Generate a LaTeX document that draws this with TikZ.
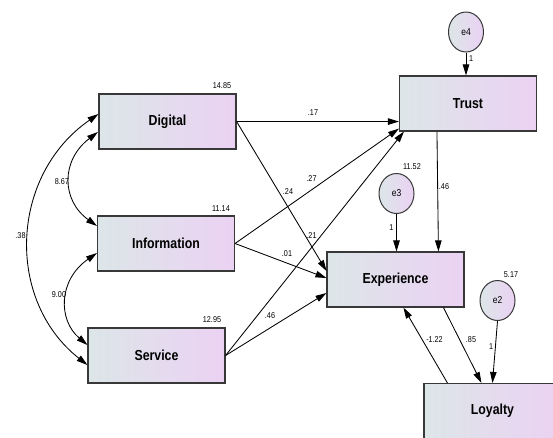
\documentclass[tikz,border=0pt]{standalone}
\usepackage{fontspec}
\setmainfont{Liberation Sans}
\usetikzlibrary{arrows.meta,shapes.geometric,calc}
\definecolor{leftc}{HTML}{DCE6E8}
\definecolor{rightc}{HTML}{EBD2F3}
\definecolor{edgec}{HTML}{383838}
\tikzset{
  var/.style={draw=edgec,line width=1.1pt,left color=leftc,right color=rightc,
    minimum width=137pt,minimum height=55pt,inner sep=0pt,
    font=\fontsize{14.5}{14.5}\selectfont\bfseries},
  err/.style={ellipse,draw=edgec,line width=1pt,left color=leftc,right color=rightc,
    minimum width=35pt,minimum height=40pt,inner sep=0pt,
    font=\fontsize{10}{10}\selectfont},
  num/.style={inner sep=0pt,font=\fontsize{8.5}{8.5}\selectfont},
  path/.style={draw=black,line width=0.85pt,-{Triangle[length=11pt,width=6.5pt]}},
  cov/.style={draw=black,line width=0.85pt,{Triangle[length=11pt,width=6.5pt]}-{Triangle[length=11pt,width=6.5pt]}}
}
\newcommand{\nw}[1]{\scalebox{0.85}[1]{#1}}
\begin{document}
\begin{tikzpicture}[x=1pt,y=-1pt]
\useasboundingbox (0,0) rectangle (553,437);
\clip (0,0) rectangle (553,437);
\fill[white] (0,0) rectangle (553,437);
% variables
\node[var] (dig) at (167.5,121.5) {\nw{Digital}};
\node[var] (inf) at (166,243.5) {\nw{Information}};
\node[var] (ser) at (156.5,355.5) {\nw{Service}};
\node[var] (tru) at (468,103.5) {\nw{Trust}};
\node[var] (exp) at (395.5,279.5) {\nw{Experience}};
\node[var] (loy) at (492.5,411) {\nw{Loyalty}};
% errors
\node[err] (e4) at (466,32) {\nw{e4}};
\node[err] (e3) at (396.5,193.5) {\nw{e3}};
\node[err] (e2) at (497.5,300.5) {\nw{e2}};
% paths
\draw[path] (dig.east) -- ($(tru.south west)+(0,-10)$);
\draw[path] (dig.east) -- ($(exp.west)+(0,-8.5)$);
\draw[path] (inf.east) -- ($(tru.south west)+(0,-3)$);
\draw[path] (inf.east) -- ($(exp.west)+(0,-1.5)$);
\draw[path] (ser.east) -- ($(tru.south west)+(5,0)$);
\draw[path] (ser.east) -- ($(exp.west)+(0,13.5)$);
\draw[path] ($(tru.south west)+(38,0)$) -- ($(exp.north west)+(112,0)$);
\draw[path] (e4.south) -- ($(tru.north)+(-2,0)$);
\draw[path] (e3.south) -- (e3.south |- exp.north);
\draw[path] ($(exp.south west)+(117,0)$) -- ($(loy.north west)+(58,0)$);
\draw[path] ($(loy.north west)+(24,0)$) -- ($(exp.south west)+(77,0)$);
\draw[path] (e2.south) -- ($(loy.north west)+(69,0)$);
% covariances
\draw[cov] ($(dig.west)+(-0.5,10.5)$) .. controls (61,160) and (61,200) .. ($(inf.west)+(0,-17.5)$);
\draw[cov] ($(inf.west)+(0,9.5)$) .. controls (58,280) and (58,320) .. ($(ser.west)+(0,-10.5)$);
\draw[cov] ($(dig.west)+(0,-7.5)$) .. controls (10,175) and (5,300) .. ($(ser.west)+(0,9.5)$);
% numbers
\node[num] (n1) at (222,86) {\nw{14.85}};
\node[num] (n2) at (221,208.5) {\nw{11.14}};
\node[num] (n3) at (212,320) {\nw{12.95}};
\node[num] (n4) at (412,167) {\nw{11.52}};
\node[num] (n5) at (511,274.5) {\nw{5.17}};
\node[num] (n6) at (313,113) {\nw{.17}};
\node[num] (n7) at (311.5,179) {\nw{.27}};
\node[num] (n8) at (288,191.5) {\nw{.24}};
\node[num] (n9) at (311.5,236) {\nw{.21}};
\node[num] (n10) at (287,254) {\nw{.01}};
\node[num] (n11) at (270,316) {\nw{.46}};
\node[num] (n12) at (444,187) {\nw{.46}};
\node[num] (n13) at (471,58.5) {\nw{1}};
\node[num] (n14) at (391.5,228) {\nw{1}};
\node[num] (n15) at (434.5,340) {\nw{-1.22}};
\node[num] (n16) at (471,340) {\nw{.85}};
\node[num] (n17) at (491,346.5) {\nw{1}};
\node[num] (n18) at (62,181.5) {\nw{8.67}};
\node[num] (n19) at (59,294.5) {\nw{9.00}};
\node[num] (n20) at (20.5,235.5) {\nw{.38}};
\end{tikzpicture}
\end{document}
